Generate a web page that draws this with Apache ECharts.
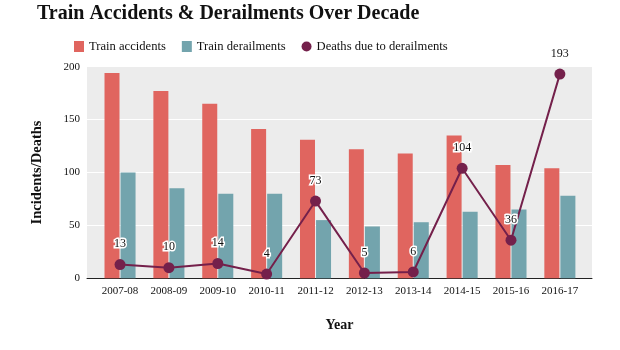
<!DOCTYPE html>
<html><head><meta charset="utf-8">
<script src="https://cdn.jsdelivr.net/npm/echarts@6/dist/echarts.min.js"></script>
<style>html,body{margin:0;padding:0;background:#fff}#c{width:620px;height:350px}</style>
</head><body><div id="c"></div>
<script>
const categories = ['2007-08','2008-09','2009-10','2010-11','2011-12','2012-13','2013-14','2014-15','2015-16','2016-17'];
const trainAccidents = [194,177,165,141,131,122,118,135,107,104];
const trainDerailments = [100,85,80,80,55,49,53,63,65,78];
const deaths = [13,10,14,4,73,5,6,104,36,193];
const yTicks = [0,50,100,150,200];

const serif = "'Liberation Serif','DejaVu Serif',serif";
const chart = echarts.init(document.getElementById('c'), null, {renderer:'canvas'});
chart.setOption({
  animation:false,
  backgroundColor:'#fff',
  title:{text:'Train Accidents & Derailments Over Decade',left:32,top:-1,
    textStyle:{fontFamily:serif,fontWeight:'bold',fontSize:20,color:'#111'}},
  legend:{left:69,top:35,itemWidth:10,itemHeight:11,itemGap:16,
    textStyle:{fontFamily:serif,fontSize:12.6,color:'#111'},
    data:[{name:'Train accidents',icon:'rect'},{name:'Train derailments',icon:'rect'},{name:'Deaths due to derailments',icon:'circle'}]},
  grid:[
    {left:87,right:28,top:66.7,bottom:71.7,show:true,backgroundColor:'#ececec',borderWidth:0},
    {left:95.6,right:35.7,top:66.7,bottom:71.7}
  ],
  xAxis:[
    {gridIndex:0,type:'value',min:0,max:1,axisLine:{show:true,onZero:false,lineStyle:{color:'#222',width:1}},
     axisTick:{show:false},axisLabel:{show:false},splitLine:{show:false},
     name:'Year',nameLocation:'middle',nameGap:40,
     nameTextStyle:{fontFamily:serif,fontWeight:'bold',fontSize:14,color:'#111'}},
    {gridIndex:1,type:'category',data:categories,axisLine:{show:false},axisTick:{show:false},
     axisLabel:{margin:7,fontFamily:serif,fontSize:11,color:'#111'}}
  ],
  yAxis:[
    {gridIndex:0,type:'value',min:yTicks[0],max:yTicks[yTicks.length-1],interval:50,
     axisLine:{show:false},axisTick:{show:false},
     axisLabel:{margin:7,fontFamily:serif,fontSize:11,color:'#111'},
     splitLine:{show:true,lineStyle:{color:'#fff',width:1}},
     name:'Incidents/Deaths',nameLocation:'middle',nameGap:42,
     nameTextStyle:{fontFamily:serif,fontWeight:'bold',fontSize:14.5,color:'#111'}},
    {gridIndex:1,type:'value',min:0,max:200,show:false}
  ],
  series:[
    {name:'Train accidents',type:'bar',xAxisIndex:1,yAxisIndex:1,data:trainAccidents,
     barWidth:15,barGap:'7%',itemStyle:{color:'#e0655f'}},
    {name:'Train derailments',type:'bar',xAxisIndex:1,yAxisIndex:1,data:trainDerailments,
     barWidth:15,barGap:'7%',itemStyle:{color:'#73a4ad'}},
    {name:'Deaths due to derailments',type:'line',xAxisIndex:1,yAxisIndex:1,data:deaths,
     symbol:'circle',symbolSize:11,itemStyle:{color:'#74204b'},lineStyle:{color:'#74204b',width:2},
     label:{show:true,position:'top',distance:9,fontFamily:serif,fontSize:12,color:'#111',
       textBorderColor:'#fff',textBorderWidth:3},z:5}
  ]
});
</script></body></html>
